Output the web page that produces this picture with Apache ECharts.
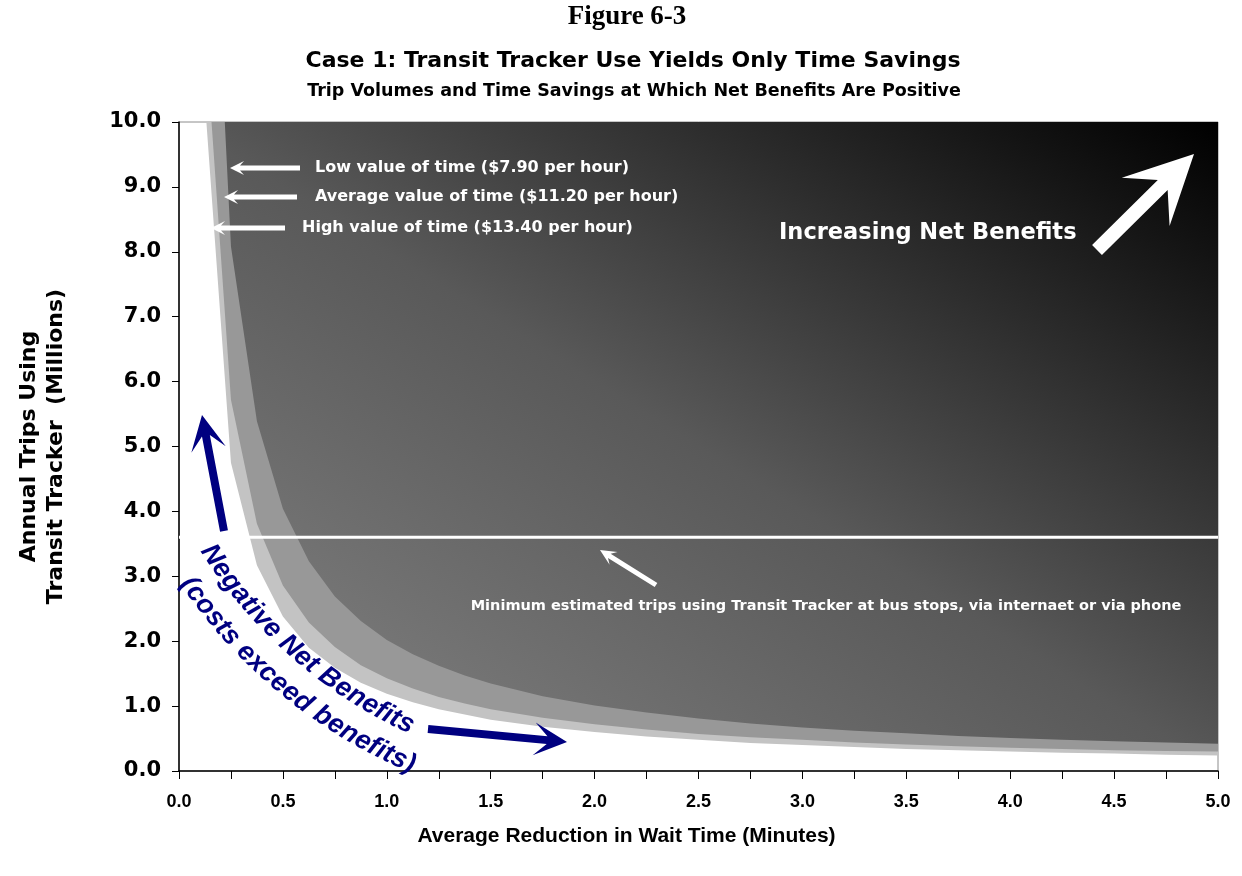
<!DOCTYPE html>
<html>
<head>
<meta charset="utf-8">
<script src="https://cdn.jsdelivr.net/npm/echarts@6/dist/echarts.min.js"></script>
<style>html,body{margin:0;padding:0;background:#fff}#chart{width:1242px;height:876px}</style>
</head>
<body>
<div id="chart"></div>
<script>
// ---- data ----
const waitMinutes = [0.125,0.25,0.375,0.5,0.625,0.75,0.875,1.0,1.125,1.25,1.375,1.5,1.75,2.0,2.25,2.5,2.75,3.0,3.25,3.5,3.75,4.0,4.25,4.5,4.75,5.0];
// break-even trips (millions) for each value of time
const tripsLowValue  = [16.16,8.08,5.39,4.04,3.23,2.69,2.31,2.02,1.80,1.62,1.47,1.35,1.15,1.01,0.90,0.81,0.73,0.67,0.62,0.58,0.54,0.51,0.48,0.46,0.44,0.42]; // $7.90/h
const tripsAvgValue  = [11.44,5.72,3.81,2.86,2.29,1.91,1.63,1.43,1.27,1.14,1.04,0.95,0.82,0.72,0.64,0.57,0.52,0.48,0.44,0.41,0.38,0.36,0.34,0.32,0.31,0.30]; // $11.20/h
const tripsHighValue = [10.30,4.75,3.17,2.38,1.90,1.59,1.36,1.19,1.06,0.95,0.87,0.79,0.68,0.60,0.53,0.48,0.43,0.40,0.37,0.34,0.32,0.30,0.28,0.27,0.25,0.24]; // $13.40/h
const minEstimatedTrips = 3.6;
const seriesNames = ['Low value of time ($7.90 per hour)','Average value of time ($11.20 per hour)','High value of time ($13.40 per hour)'];

const SANS = '"Liberation Sans", Arial, sans-serif';
const WIDE = '"DejaVu Sans", Verdana, sans-serif';
const pairs = arr => waitMinutes.map((x, i) => [x, arr[i]]);

function arrowPoints(tail, tip, sw, headLen, headW, notch) {
  const dx = tip[0]-tail[0], dy = tip[1]-tail[1], L = Math.hypot(dx, dy);
  const ux = dx/L, uy = dy/L, px = -uy, py = ux;
  const at = (d, o) => [tail[0]+ux*d+px*o, tail[1]+uy*d+py*o];
  return [at(0, sw/2), at(L-notch, sw/2), at(L-headLen, headW/2), tip.slice(),
          at(L-headLen, -headW/2), at(L-notch, -sw/2), at(0, -sw/2)];
}
function arrow(tail, tip, sw, headLen, headW, notch, color) {
  return {type:'polygon', silent:true, z:100, shape:{points:arrowPoints(tail, tip, sw, headLen, headW, notch)}, style:{fill:color}};
}
function label(text, x, y, font, align, color) {
  return {type:'text', silent:true, z:100, x:x, y:y,
    style:{text:text, font:font, fill:color||'#ffffff', textAlign:align||'left', textVerticalAlign:'middle'}};
}
// curved navy text
function curvedText(text, cx, cy, r, startDeg, font) {
  const ctx = document.createElement('canvas').getContext('2d');
  ctx.font = font;
  const els = [];
  let s = 0; const w0 = ctx.measureText(text[0]).width;
  for (const ch of text) {
    const w = ctx.measureText(ch).width;
    const sc = s + w/2 - w0/2;
    const th = startDeg*Math.PI/180 - sc/r;
    if (ch !== ' ') {
      els.push({type:'text', silent:true, z:100, x:cx + r*Math.cos(th), y:cy + r*Math.sin(th), rotation: Math.PI/2 - th,
        style:{text:ch, font:font, fill:'#000080', textAlign:'center', textVerticalAlign:'middle'}});
    }
    s += w;
  }
  return els;
}

const chart = echarts.init(document.getElementById('chart'));
// diagonal (bottom-left -> top-right) gradient in canvas coordinates
const bg = new echarts.graphic.LinearGradient(179, 771, 762, -163, [
  {offset:0, color:'#878787'}, {offset:0.5, color:'#595959'}, {offset:1, color:'#000000'}], true);

const areaSeries = (name, arr, color, z) => ({
  name:name, type:'line', data:pairs(arr), symbol:'none', smooth:false, z:z,
  lineStyle:{width:0}, itemStyle:{color:'#888'},
  areaStyle:{color:color, opacity:1, origin:'end'}, silent:true, clip:true
});

const blueFont = 'italic bold 27px ' + SANS;
const graphics = [
  label('Figure 6-3', 627, 17, 'bold 27px "Liberation Serif", serif', 'center', '#000'),
  label('Case 1: Transit Tracker Use Yields Only Time Savings', 633, 61, 'bold 22px '+WIDE, 'center', '#000'),
  label('Trip Volumes and Time Savings at Which Net Benefits Are Positive', 634, 91, 'bold 17.5px '+WIDE, 'center', '#000'),
  arrow([300,168],[230,168],5,14,14,10,'#ffffff'),
  arrow([297,197],[224,197],5,14,14,10,'#ffffff'),
  arrow([285,228],[211,228],5,14,14,10,'#ffffff'),
  label(seriesNames[0], 315, 168, 'bold 16px '+WIDE),
  label(seriesNames[1], 315, 197, 'bold 16px '+WIDE),
  label(seriesNames[2], 302, 228, 'bold 16px '+WIDE),
  label('Increasing Net Benefits', 779, 233, 'bold 22.5px '+WIDE),
  arrow([1097,250],[1194,154],14,68,68,44,'#ffffff'),
  label('Minimum estimated trips using Transit Tracker at bus stops, via internaet or via phone', 826, 606, 'bold 14.5px '+WIDE, 'center'),
  arrow([656,585],[600,550],5,16,15,11,'#ffffff'),
  arrow([224,531],[202,415],8,35,35,21,'#000080'),
  arrow([428,729],[567,742],8,33,33,20,'#000080')
].concat(curvedText('Negative Net Benefits', 611, 292, 478, 146.6, blueFont))
 .concat(curvedText('(costs exceed benefits)', 611, 292, 513, 145.4, blueFont));

chart.setOption({
  animation:false,
  backgroundColor:'#ffffff',
  grid:{left:179, right:24, top:122, bottom:105, show:true, backgroundColor:'#ffffff', borderColor:'#8c8c8c', borderWidth:1},
  xAxis:{
    type:'value', min:0, max:5, interval:0.5,
    name:'Average Reduction in Wait Time (Minutes)', nameLocation:'middle', nameGap:55,
    nameTextStyle:{fontFamily:SANS, fontWeight:'bold', fontSize:21, color:'#000', padding:[0,144,0,0]},
    axisLine:{show:true, onZero:false, lineStyle:{color:'#000', width:1.5}},
    axisTick:{show:true, inside:false, length:8, lineStyle:{color:'#000', width:1}},
    minorTick:{show:true, splitNumber:2, length:8, lineStyle:{color:'#000', width:1}},
    splitLine:{show:false},
    axisLabel:{margin:22, fontFamily:SANS, fontWeight:'bold', fontSize:18, color:'#000', formatter:v => v.toFixed(1)}
  },
  yAxis:{
    type:'value', min:0, max:10, interval:1,
    name:'Annual Trips Using\nTransit Tracker  (Millions)', nameLocation:'middle', nameGap:109, nameRotate:90,
    nameTextStyle:{fontFamily:WIDE, fontWeight:'bold', fontSize:22, lineHeight:27, color:'#000'},
    axisLine:{show:true, lineStyle:{color:'#000', width:1.5}},
    axisTick:{show:true, inside:false, length:7, lineStyle:{color:'#000', width:1}},
    splitLine:{show:false},
    axisLabel:{margin:18, fontFamily:WIDE, fontWeight:'bold', fontSize:21, color:'#000', formatter:v => v.toFixed(1)}
  },
  series:[
    areaSeries(seriesNames[2], tripsHighValue, '#c3c3c3', 2),
    areaSeries(seriesNames[1], tripsAvgValue, '#989898', 3),
    areaSeries(seriesNames[0], tripsLowValue, bg, 4),
    {name:'Minimum estimated trips', type:'line', symbol:'none', z:5, silent:true,
     data:[[0, minEstimatedTrips],[5, minEstimatedTrips]], lineStyle:{color:'#ffffff', width:3}}
  ],
  graphic:graphics
});
</script>
</body>
</html>
